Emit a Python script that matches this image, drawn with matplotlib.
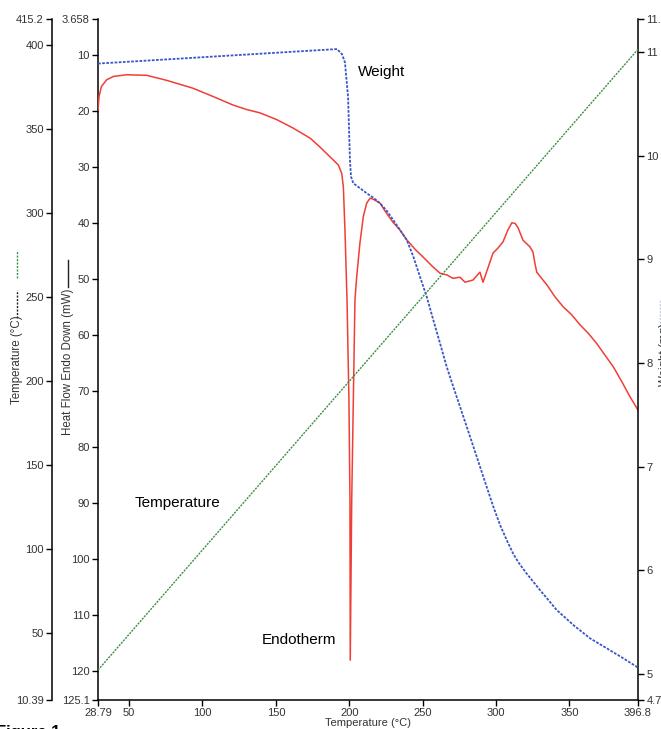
import matplotlib
matplotlib.use("Agg")
import matplotlib.pyplot as plt
from matplotlib.lines import Line2D

plt.rcParams['font.family'] = ['Liberation Sans', 'DejaVu Sans']

# ---------------- data ----------------
# Heat flow (mW), plotted against sample temperature (degC)
hf_T = [28.79, 29.5, 31.1, 34.7, 39.3, 48.35, 62.0, 75.6, 93.5, 107.4, 120.8,
        130.1, 139.2, 150.6, 161.7, 173.3, 180.1, 189.1, 192.6, 194.9, 196.0,
        197.1, 198.5, 199.8, 200.5, 200.7, 201.7, 202.8, 203.9, 205.1, 207.3,
        209.6, 211.9, 214.2, 216.4, 221.0, 224.4, 229.8, 234.6, 239.4, 244.8,
        250.3, 256.4, 261.9, 266.6, 270.7, 275.5, 278.9, 284.4, 289.1, 291.2,
        298.0, 301.4, 304.8, 308.1, 310.8, 313.0, 315.1, 318.4, 323.2, 325.2,
        326.6, 327.8, 331.4, 334.8, 340.2, 345.9, 351.6, 357.3, 362.9, 368.6,
        374.3, 380.0, 385.7, 391.3, 396.8]
hf_vals = [19.9, 17.5, 15.7, 14.5, 13.9, 13.6, 13.7, 14.6, 16.0, 17.5, 19.0,
           19.8, 20.4, 21.6, 23.1, 24.9, 26.5, 28.8, 29.7, 31.2, 33.6,
           41.3, 53.8, 71.6, 89.4, 118.0, 89.4, 71.6, 53.8, 49.6, 43.6,
           38.9, 36.5, 35.6, 35.8, 36.5, 37.9, 39.9, 41.3, 43.1, 44.7,
           46.1, 47.7, 49.0, 49.3, 49.9, 49.7, 50.6, 50.2, 48.8, 50.6,
           45.4, 44.5, 43.4, 41.3, 40.0, 40.1, 40.9, 43.1, 44.3, 45.2,
           47.3, 48.8, 50.0, 51.1, 53.2, 55.0, 56.4, 58.2, 59.7, 61.5,
           63.6, 65.7, 68.3, 71.0, 73.4]

# Weight (mg)
w_T = [28.79, 191.7, 195.1, 197.1, 199.2, 200.5, 201.2, 202.8, 207.4, 211.9,
       216.4, 221.0, 225.5, 230.0, 234.6, 239.2, 243.7, 248.2, 252.8, 257.3,
       261.9, 266.4, 270.9, 275.5, 281.2, 286.9, 292.5, 298.2, 302.8, 307.3,
       311.8, 315.2, 320.9, 330.0, 341.4, 352.7, 364.1, 375.5, 386.8, 395.9,
       396.8]
w_vals = [10.89, 11.03, 10.98, 10.90, 10.57, 9.96, 9.80, 9.735, 9.687, 9.639,
          9.596, 9.542, 9.471, 9.381, 9.285, 9.188, 9.027, 8.834, 8.641, 8.416,
          8.191, 7.966, 7.773, 7.58, 7.339, 7.097, 6.856, 6.615, 6.438, 6.294,
          6.16, 6.08, 5.97, 5.811, 5.618, 5.474, 5.345, 5.249, 5.152, 5.071,
          5.06]

# Programmed temperature (degC)
temp_T = [28.79, 396.8]
temp_vals = [28.2, 397.2]

x_ticks = [28.79, 50, 100, 150, 200, 250, 300, 350, 396.8]
x_labels = ['28.79', '50', '100', '150', '200', '250', '300', '350', '396.8']
hf_ticks = [3.658, 10, 20, 30, 40, 50, 60, 70, 80, 90, 100, 110, 120, 125.1]
hf_labels = ['3.658', '10', '20', '30', '40', '50', '60', '70', '80', '90',
             '100', '110', '120', '125.1']
t_ticks = [10.39, 50, 100, 150, 200, 250, 300, 350, 400, 415.2]
t_labels = ['10.39', '50', '100', '150', '200', '250', '300', '350', '400', '415.2']
w_ticks = [4.75, 5, 6, 7, 8, 9, 10, 11, 11.32]
w_labels = ['4.75', '5', '6', '7', '8', '9', '10', '11', '11.32']

# ---------------- figure ----------------
W, H = 661, 729
fig = plt.figure(figsize=(W / 100, H / 100), dpi=100)
ax = fig.add_axes([98 / W, 29 / H, 540 / W, 681 / H])
ax_w = ax.twinx()
ax_t = ax.twinx()

tick_col = '#333333'
spine_w = 1.1
fs = 8.0

# heat flow axis (main)
ax.plot(hf_T, hf_vals, color='#f03e36', lw=1.1, zorder=3)
ax.set_xlim(28.79, 396.8)
ax.set_ylim(125.1, 3.658)
ax.set_xticks(x_ticks)
ax.set_xticklabels(x_labels)
ax.set_yticks(hf_ticks)
ax.set_yticklabels(hf_labels)
ax.spines['top'].set_visible(False)
ax.spines['right'].set_visible(False)
for s in ['left', 'bottom']:
    ax.spines[s].set_linewidth(spine_w)
ax.tick_params(axis='both', labelsize=fs, labelcolor=tick_col, length=4,
               width=1, direction='out', pad=2)
ax.set_xlabel('Temperature (°C)', fontsize=fs, color=tick_col, labelpad=0)

# weight axis (right)
ax_w.plot(w_T, w_vals, color='#3a55c8', lw=1.3, linestyle=(0, (1.5, 0.8)), zorder=3)
ax_w.set_ylim(4.75, 11.32)
ax_w.set_yticks(w_ticks)
ax_w.set_yticklabels(w_labels)
for s in ['top', 'left', 'bottom']:
    ax_w.spines[s].set_visible(False)
ax_w.spines['right'].set_linewidth(spine_w)
ax_w.tick_params(axis='y', labelsize=fs, labelcolor=tick_col, length=4,
                 width=1, direction='out', pad=2)

# temperature axis (far left)
ax_t.plot(temp_T, temp_vals, color='#3d8f45', lw=1.0, linestyle=(0, (1.5, 0.8)), zorder=2)
ax_t.set_ylim(10.39, 415.2)
ax_t.yaxis.set_ticks_position('left')
ax_t.yaxis.set_label_position('left')
ax_t.spines['left'].set_position(('axes', -46 / 540))
for s in ['top', 'right', 'bottom']:
    ax_t.spines[s].set_visible(False)
ax_t.spines['left'].set_visible(True)
ax_t.spines['left'].set_linewidth(spine_w)
ax_t.set_yticks(t_ticks)
ax_t.set_yticklabels(t_labels)
ax_t.tick_params(axis='y', labelsize=fs, labelcolor=tick_col, length=4,
                 width=1, direction='out', pad=2)

# annotations
ax.text(206, 13.1, 'Weight', fontsize=11, va='center', ha='left', color='black')
ax.text(54.0, 90.0, 'Temperature', fontsize=11, va='center', ha='left', color='black')
ax.text(140.5, 114.4, 'Endotherm', fontsize=11, va='center', ha='left', color='black')


def fx(px):
    return px / W


def fy(py):
    return 1 - py / H


# axis titles with line keys
fig.text(fx(17), fy(360), 'Temperature (°C)', rotation=90, fontsize=8.3,
         color=tick_col, ha='center', va='center')
fig.text(fx(68), fy(362), 'Heat Flow Endo Down (mW)', rotation=90, fontsize=8.3,
         color=tick_col, ha='center', va='center')
fig.text(fx(665), fy(355), 'Weight (mg)', rotation=90, fontsize=8.3,
         color=tick_col, ha='center', va='center')

fig.add_artist(Line2D([fx(17), fx(17)], [fy(318), fy(290)], color='#222222',
                      lw=1.0, linestyle=(0, (1.5, 1))))
fig.add_artist(Line2D([fx(17), fx(17)], [fy(278), fy(250)], color='#3d8f45',
                      lw=1.0, linestyle=(0, (1.5, 1))))
fig.add_artist(Line2D([fx(68), fx(68)], [fy(287), fy(260)], color='#222222', lw=1.0))
fig.add_artist(Line2D([fx(660), fx(660)], [fy(330), fy(300)], color='#c8cad8',
                      lw=1.0, linestyle=(0, (1.5, 1))))

# partially visible figure caption
fig.text(fx(-4), fy(725.5), 'Figure 1', fontsize=12, fontweight='bold',
         ha='left', va='top', color='black')

fig.savefig('out.png', dpi=100)
